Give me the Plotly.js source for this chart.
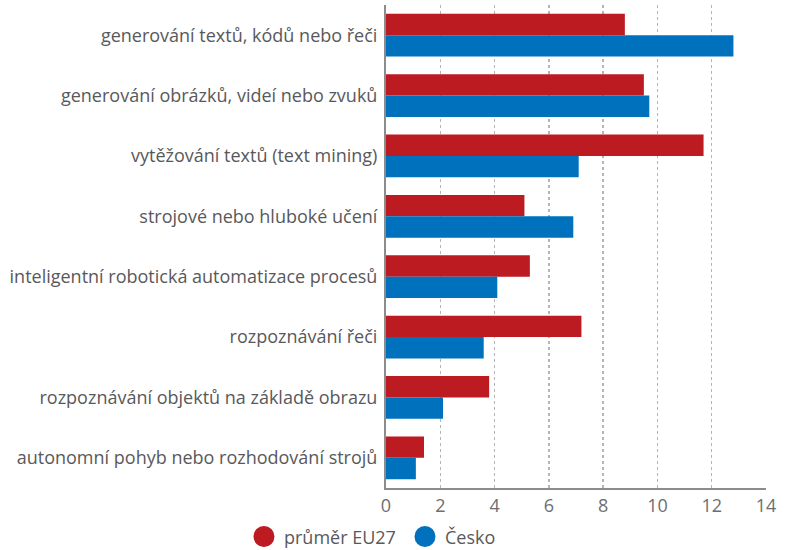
<!DOCTYPE html>
<html>
<head>
<meta charset="utf-8">
<script src="https://cdn.plot.ly/plotly-3.0.1.min.js"></script>
<style>html,body{margin:0;padding:0;background:#fff;}#chart{width:787px;height:550px;}</style>
</head>
<body>
<div id="chart"></div>
<script>
const categories = [
  "generování textů, kódů nebo řeči",
  "generování obrázků, videí nebo zvuků",
  "vytěžování textů (text mining)",
  "strojové nebo hluboké učení",
  "inteligentní robotická automatizace procesů",
  "rozpoznávání řeči",
  "rozpoznávání objektů na základě obrazu",
  "autonomní pohyb nebo rozhodování strojů"
];
const seriesNames = ["průměr EU27", "Česko"];
const eu27 = [8.8, 9.5, 11.7, 5.1, 5.3, 7.2, 3.8, 1.4];
const cesko = [12.8, 9.7, 7.1, 6.9, 4.1, 3.6, 2.1, 1.1];
const xTicks = [0, 2, 4, 6, 8, 10, 12, 14];

const colors = ["#BD1B22", "#0071BC"];
const font = "'Open Sans', 'Noto Sans', sans-serif";
const textColor = "#58595B";

const traces = [eu27, cesko].map((vals, i) => ({
  type: "bar",
  orientation: "h",
  y: categories,
  x: vals,
  name: seriesNames[i],
  marker: {color: colors[i]},
  showlegend: false,
  hoverinfo: "x+y"
}));
// legend-only circle markers
seriesNames.forEach((n, i) => traces.push({
  type: "scatter",
  mode: "markers",
  x: [null], y: [null],
  name: n,
  marker: {color: colors[i], size: 16, symbol: "circle", line: {color: colors[i], width: 5}},
  showlegend: true
}));

const layout = {
  width: 787, height: 550,
  margin: {l: 386, r: 21, t: 5, b: 62},
  paper_bgcolor: "#fff", plot_bgcolor: "#fff",
  barmode: "group",
  bargap: 0.29,
  bargroupgap: 0,
  font: {family: font, color: textColor, size: 18},
  xaxis: {
    range: [0, 14],
    tickvals: xTicks,
    ticktext: xTicks.map(String),
    showgrid: true,
    gridcolor: "#B5B5B5",
    griddash: "3px,3px",
    gridwidth: 1.5,
    zeroline: false,
    showline: true,
    linecolor: "#8C8C8C",
    linewidth: 2,
    ticks: "",
    tickfont: {size: 18, color: "#6D6E71"},
    fixedrange: true
  },
  yaxis: {
    autorange: "reversed",
    showgrid: false,
    zeroline: false,
    showline: true,
    linecolor: "#8C8C8C",
    linewidth: 2,
    ticks: "",
    ticklabelstandoff: 3,
    tickfont: {size: 18, color: textColor},
    fixedrange: true
  },
  showlegend: true,
  legend: {
    orientation: "h",
    xref: "container", yref: "container",
    x: 0.31, xanchor: "left",
    y: 0.024, yanchor: "middle",
    font: {size: 18, color: textColor},
    entrywidth: 116,
    entrywidthmode: "pixels",
    traceorder: "normal"
  }
};

Plotly.newPlot("chart", traces, layout, {displayModeBar: false, staticPlot: true});
</script>
</body>
</html>
